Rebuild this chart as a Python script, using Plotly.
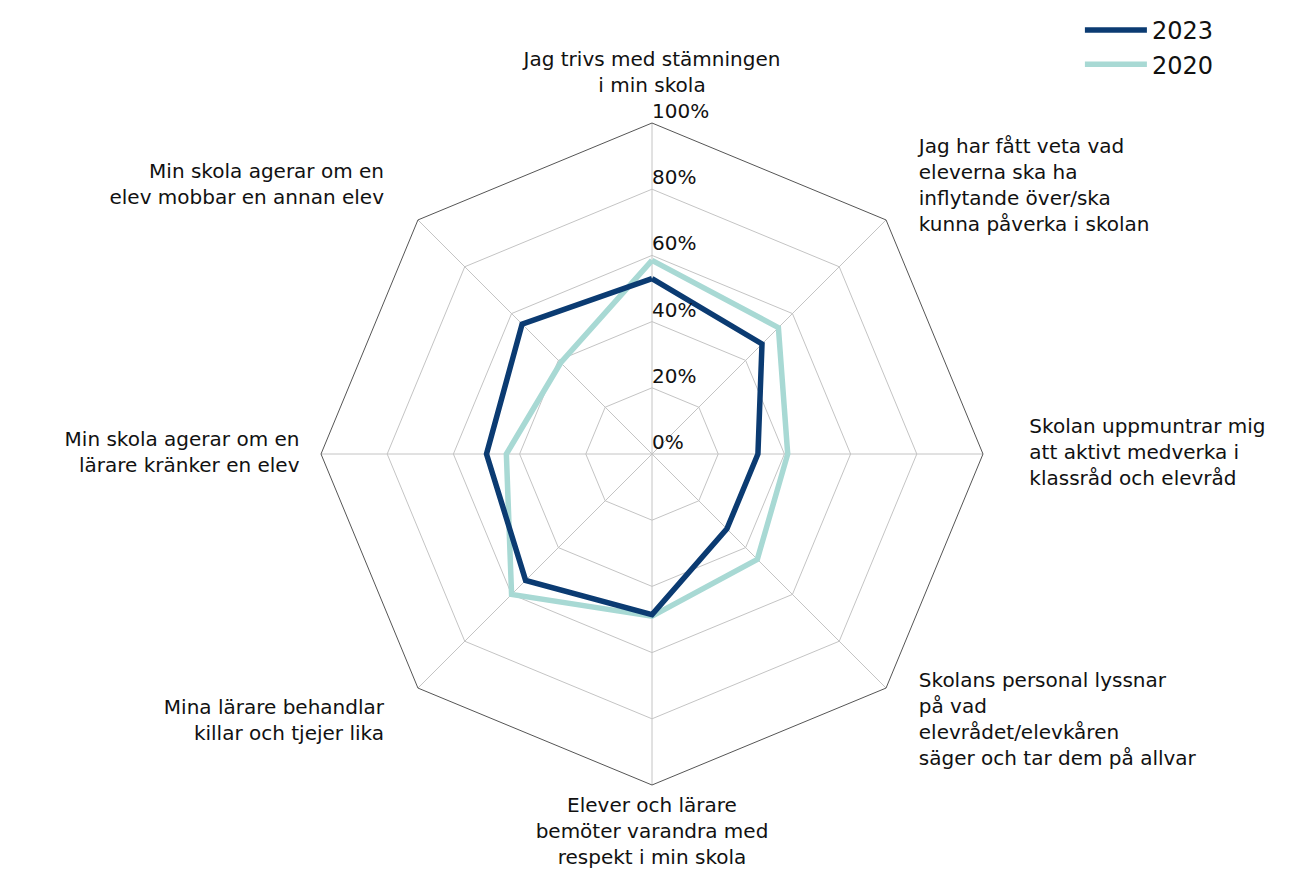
import plotly.graph_objects as go

categories = [
    "Jag trivs med stämningen<br>i min skola",
    "Jag har fått veta vad<br>eleverna ska ha<br>inflytande över/ska<br>kunna påverka i skolan",
    "Skolan uppmuntrar mig<br>att aktivt medverka i<br>klassråd och elevråd",
    "Skolans personal lyssnar<br>på vad<br>elevrådet/elevkåren<br>säger och tar dem på allvar",
    "Elever och lärare<br>bemöter varandra med<br>respekt i min skola",
    "Mina lärare behandlar<br>killar och tjejer lika",
    "Min skola agerar om en<br>lärare kränker en elev",
    "Min skola agerar om en<br>elev mobbar en annan elev",
]
values_2023 = [53, 47, 32, 32, 48.5, 54, 50, 55.5]
values_2020 = [58.5, 54, 41, 45, 49, 60, 44, 39]
radial_ticks = [0, 20, 40, 60, 80, 100]
radial_labels = [f"{t}%" for t in radial_ticks]

# label placement (layout only)
label_radius = [108, 114, 114, 114, 103.5, 114.5, 106.5, 114.5]
label_pos = ["top center", "middle right", "middle right", "middle right",
             "bottom center", "middle left", "middle left", "middle left"]

NAVY = "#0b3b72"
TEAL = "#a8d9d4"
FONT = "DejaVu Sans"
TXT = "#111111"

W, H = 1312, 871
CX, CY = 644, 446        # chart centre in figure px (page adds an 8px body margin)
R1 = 331                 # radius of 100 %
R2 = 417                 # radius of the overlay (label) polar
r2max = 100 * R2 / R1

fig = go.Figure()
fig.add_trace(go.Scatterpolar(
    r=values_2020 + values_2020[:1], theta=categories + categories[:1],
    mode="lines", name="2020", line=dict(color=TEAL, width=5.5),
))
fig.add_trace(go.Scatterpolar(
    r=values_2023 + values_2023[:1], theta=categories + categories[:1],
    mode="lines", name="2023", line=dict(color=NAVY, width=5.5),
))
fig.add_trace(go.Scatterpolar(
    r=radial_ticks, theta=[categories[0]] * len(radial_ticks), subplot="polar2",
    mode="text", text=radial_labels, textposition="top right",
    textfont=dict(family=FONT, size=20, color=TXT),
    showlegend=False, hoverinfo="skip", cliponaxis=False,
))
fig.add_trace(go.Scatterpolar(
    r=label_radius, theta=categories, subplot="polar2",
    mode="text", text=categories, textposition=label_pos,
    textfont=dict(family=FONT, size=20, color=TXT),
    showlegend=False, hoverinfo="skip", cliponaxis=False,
))

hidden_radial = dict(showticklabels=False, ticks="", showline=False, showgrid=False)
fig.update_layout(
    width=W, height=H,
    margin=dict(l=0, r=0, t=0, b=0),
    paper_bgcolor="white", plot_bgcolor="white",
    font=dict(family=FONT, size=20, color=TXT),
    polar=dict(
        domain=dict(x=[(CX - R1) / W, (CX + R1) / W],
                    y=[(H - CY - R1) / H, (H - CY + R1) / H]),
        gridshape="linear",
        bgcolor="white",
        radialaxis=dict(
            range=[0, 100], tickvals=[20, 40, 60, 80], showticklabels=False,
            ticks="", showline=False, gridcolor="#c4c4c4", gridwidth=1, angle=90,
        ),
        angularaxis=dict(
            rotation=90, direction="clockwise", showline=True, linecolor="#555555",
            linewidth=1, gridcolor="#c4c4c4", ticks="", showticklabels=False,
        ),
    ),
    polar2=dict(
        domain=dict(x=[(CX - R2) / W, (CX + R2) / W],
                    y=[max(0, (H - CY - R2) / H), min(1, (H - CY + R2) / H)]),
        bgcolor="rgba(0,0,0,0)",
        radialaxis=dict(range=[0, r2max], angle=90, **hidden_radial),
        angularaxis=dict(rotation=90, direction="clockwise", showline=False,
                         showgrid=False, ticks="", showticklabels=False,
                         categoryarray=categories, categoryorder="array"),
    ),
    legend=dict(
        x=0.817, y=1.0, xanchor="left", yanchor="top", traceorder="reversed",
        font=dict(family=FONT, size=24, color=TXT), itemwidth=62,
        bgcolor="rgba(0,0,0,0)",
    ),
)

fig.write_html("out.html")
